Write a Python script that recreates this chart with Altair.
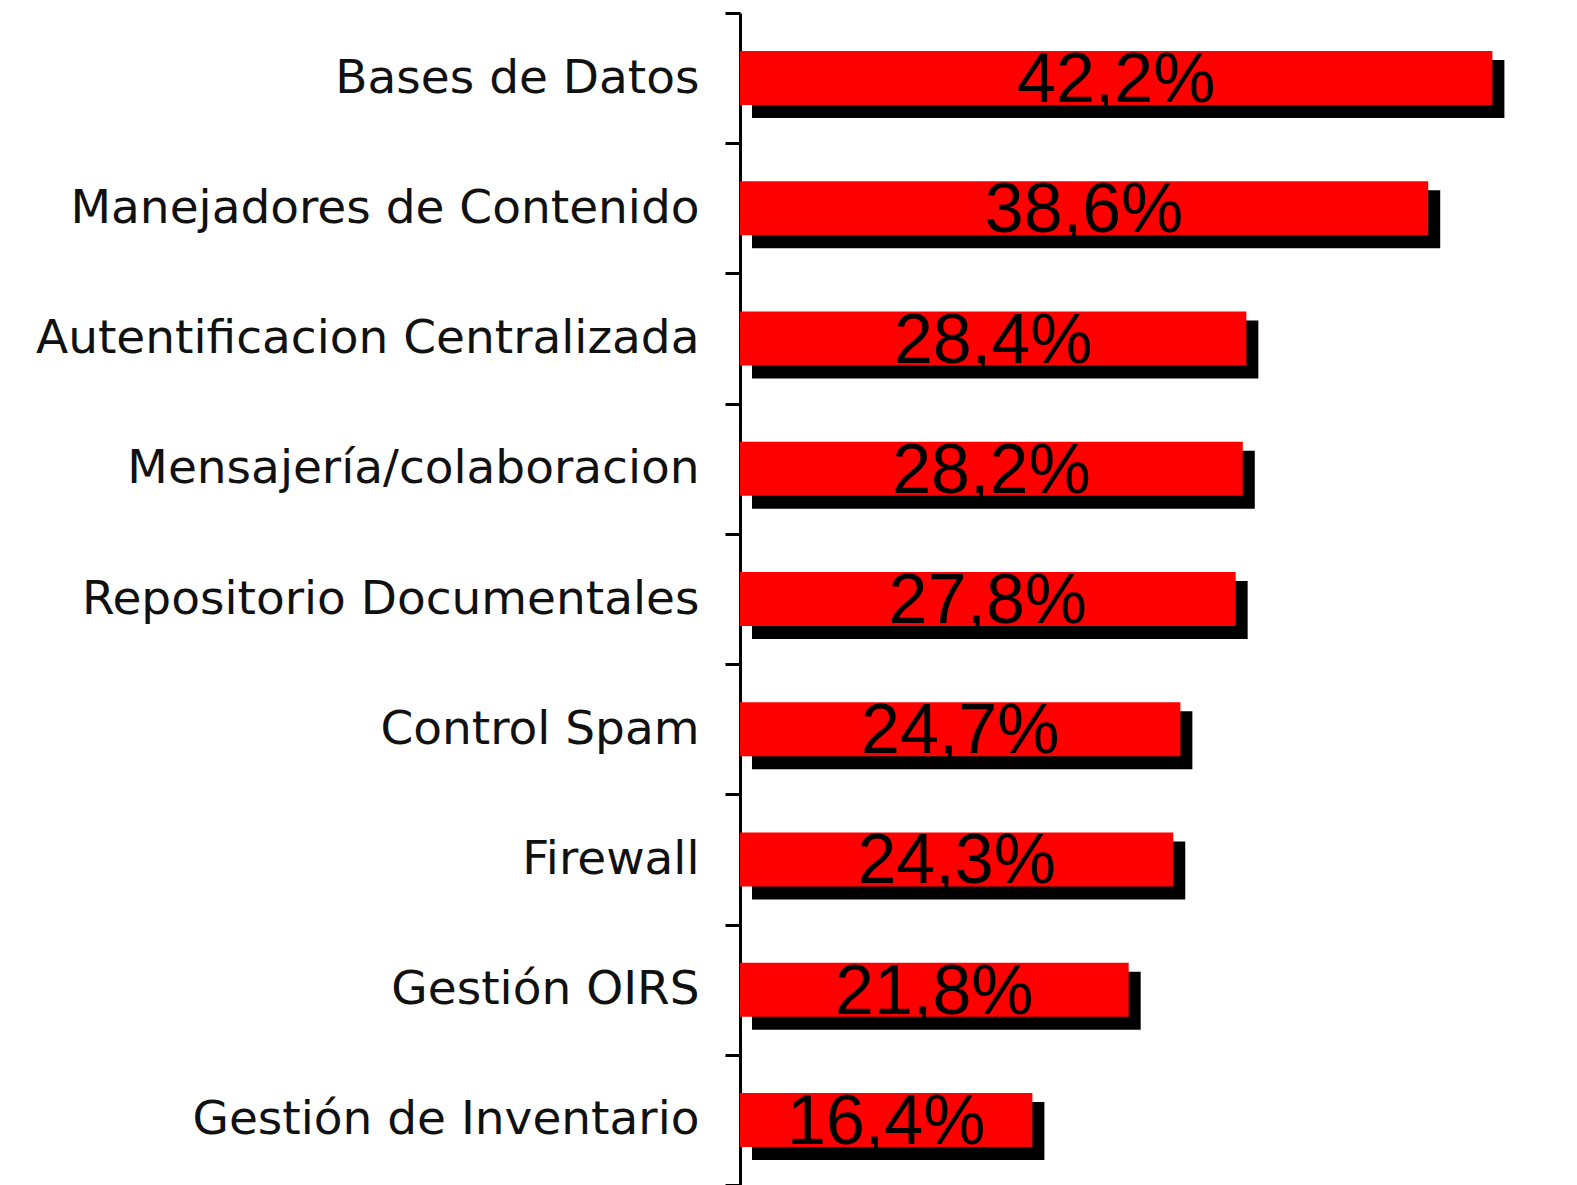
import altair as alt
import pandas as pd

categories = [
    "Bases de Datos",
    "Manejadores de Contenido",
    "Autentificacion Centralizada",
    "Mensajería/colaboracion",
    "Repositorio Documentales",
    "Control Spam",
    "Firewall",
    "Gestión OIRS",
    "Gestión de Inventario",
]
values = [42.2, 38.6, 28.4, 28.2, 27.8, 24.7, 24.3, 21.8, 16.4]
value_labels = ["42,2%", "38,6%", "28,4%", "28,2%", "27,8%", "24,7%", "24,3%", "21,8%", "16,4%"]

df = pd.DataFrame({"cat": categories, "val": values, "lab": value_labels})

y_enc = alt.Y("cat:N", sort=categories, title=None,
              scale=alt.Scale(paddingInner=0, paddingOuter=0),
              axis=alt.Axis(domainWidth=3, domainColor="black", tickWidth=3, tickColor="black",
                            tickSize=15, tickBand="extent", labelFontSize=47,
                            labelFont="DejaVu Sans", labelFontWeight="normal",
                            labelColor="#111111", labelPadding=26, labelLimit=1000))
x_scale = alt.Scale(domain=[0, 44.87], nice=False, zero=True)

base = alt.Chart(df)

shadow = base.mark_bar(color="black", size=58, yOffset=11, xOffset=12, x2Offset=6).encode(
    x=alt.X("val:Q", scale=x_scale, axis=None),
    y=y_enc,
)
bars = base.mark_bar(color="#ff0000", size=54).encode(
    x=alt.X("val:Q", scale=x_scale, axis=None),
    y=y_enc,
)
text = base.transform_calculate(mid="datum.val / 2").mark_text(
    font="Liberation Sans", fontSize=70, color="black", align="center",
    baseline="alphabetic", dy=24,
).encode(
    x=alt.X("mid:Q", scale=x_scale, axis=None),
    y=y_enc,
    text="lab:N",
)

chart = alt.layer(shadow, bars, text).properties(
    width=800, height=1172,
    autosize=alt.AutoSizeParams(type="none"),
    padding={"left": 732, "top": 5, "right": 0, "bottom": 0},
).configure_view(stroke=None)

chart.save("out.html", embed_options={"renderer": "svg", "actions": False})
